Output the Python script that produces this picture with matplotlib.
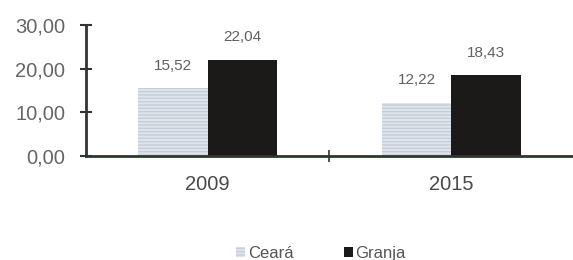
import matplotlib.pyplot as plt
import numpy as np

plt.rcParams['font.family'] = ['Liberation Sans', 'DejaVu Sans']
plt.rcParams['hatch.color'] = '#c5ced8'

years = ["2009", "2015"]
ceara = [15.52, 12.22]
granja = [22.04, 18.43]

fig = plt.figure(figsize=(5.73, 2.60), dpi=100)
ax = fig.add_axes([0.150, 0.40, 0.85, 0.504])

x = np.arange(len(years))
w = 0.285
b1 = ax.bar(x - w / 2, ceara, w, color='#dfe5ec', linewidth=0,
            hatch='-----', label='Ceará')
b2 = ax.bar(x + w / 2, granja, w, color='#1c1a18', label='Granja')

for bars, vals in ((b1, ceara), (b2, granja)):
    for r, v in zip(bars, vals):
        ax.annotate(f"{v:.2f}".replace('.', ','), (r.get_x() + r.get_width() / 2, v),
                    xytext=(0, 11), textcoords='offset points',
                    ha='center', va='bottom', fontsize=11, color='#606060')

ax.set_xlim(-0.5, 1.5)
ax.set_ylim(0, 30)
ax.set_yticks([0, 10, 20, 30])
ax.set_yticklabels(["0,00", "10,00", "20,00", "30,00"], fontsize=14.5, color='#666666')
ax.set_xticks(x)
ax.set_xticklabels(years, fontsize=14.5, color='#4a4a4a')
ax.tick_params(axis='x', length=0, pad=14)
ax.tick_params(axis='y', direction='inout', length=8, width=1.5, color='#333333', pad=11)
ax.set_xticks([0.5], minor=True)
ax.tick_params(axis='x', which='minor', direction='inout', length=8, width=1.2, color='#333333')

for s in ('top', 'right'):
    ax.spines[s].set_visible(False)
ax.spines['left'].set_linewidth(2)
ax.spines['left'].set_color('#333333')
ax.spines['bottom'].set_linewidth(2)
ax.spines['bottom'].set_color('#2a3a2a')

fig.legend(handles=[b1, b2], labels=['Ceará', 'Granja'], loc='center', bbox_to_anchor=(0.56, 0.025),
           ncol=2, frameon=False, fontsize=12, handlelength=0.55, handleheight=0.6,
           handletextpad=0.15, columnspacing=3.0, labelcolor='#555555')

fig.savefig('out.png', dpi=100)
